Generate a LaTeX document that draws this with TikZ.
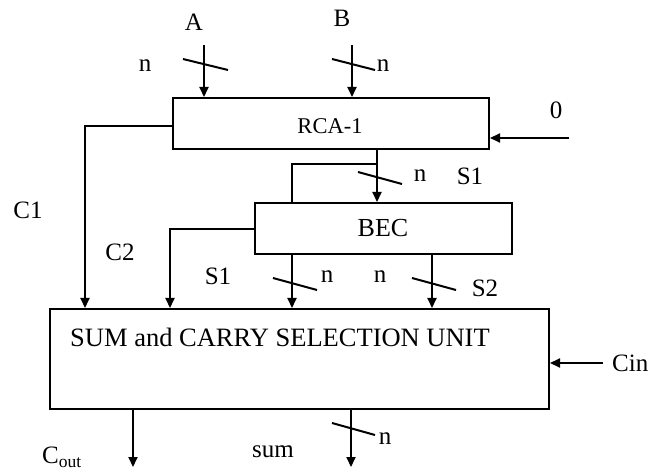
\documentclass[tikz,border=0pt]{standalone}
\usepackage{fontspec}
\setmainfont{Liberation Serif}
\usetikzlibrary{arrows.meta}
\begin{document}
\begin{tikzpicture}[x=1pt,y=-1pt,
  every node/.style={font=\fontsize{25}{29}\selectfont, inner sep=0pt},
  blk/.style={draw, line width=2pt, rectangle, anchor=center},
  wire/.style={line width=2pt},
  arr/.style={line width=2pt, -{Triangle[length=10pt,width=9pt]}},
  slash/.style={line width=2pt}]
\useasboundingbox (0,0) rectangle (651,473);

% blocks
\node[blk, minimum width=316pt, minimum height=51pt] (rca) at (331,123.5) {};
\node (rcat) at (330,126) {\fontsize{22.5}{26}\selectfont RCA-1};
\node[blk, minimum width=257pt, minimum height=51pt] (bec) at (383.5,228.5) {};
\node (bect) at (383,228) {\fontsize{26}{30}\selectfont BEC};
\node[blk, minimum width=499pt, minimum height=100pt] (scu) at (299.5,359) {};
\node[anchor=west] (scut) at (70,337) {\fontsize{26.5}{30}\selectfont SUM and CARRY SELECTION UNIT};

% coordinates
\coordinate (ain) at (204,45);
\coordinate (bin) at (352,45);
\coordinate (zin) at (569,138);
\coordinate (c1x) at (85,0);
\coordinate (c2x) at (170,0);
\coordinate (rox) at (377,0);
\coordinate (brx) at (292,0);
\coordinate (brc) at (377,164);
\coordinate (s2x) at (432,0);
\coordinate (cinin) at (603,363);
\coordinate (coutx) at (133,0);
\coordinate (sumx) at (351,0);
\coordinate (coute) at (133,467);
\coordinate (sume) at (351,467);

% inputs A, B
\draw[arr] (ain) -- (ain |- rca.north);
\draw[arr] (bin) -- (bin |- rca.north);
\draw[slash] (183,59) -- (228,70);
\draw[slash] (332,59) -- (375,70);
\node (la) at (194,22) {A};
\node (lb) at (342,18) {B};
\node (lna) at (145,66) {n};
\node (lnb) at (383,66) {n};

% zero carry in
\draw[arr] (zin) -- (zin -| rca.east);
\node (l0) at (556,110) {0};

% C1
\draw[arr] ([yshift=-2.5pt]rca.west) -| (c1x |- scu.north);
\node (lc1) at (28,210) {C1};

% RCA output to BEC
\draw[arr] (rox |- rca.south) -- (rox |- bec.north);
\draw[wire] (brc) -- (brc -| brx) -- (brx |- bec.north);
\draw[slash] (358,172) -- (402,184);
\node (ln1) at (420,176) {n};
\node (ls1) at (470,176) {S1};

% C2
\draw[arr] ([yshift=-1pt]bec.west) -| (c2x |- scu.north);
\node (lc2) at (120,252) {C2};

% BEC outputs
\draw[arr] (brx |- bec.south) -- (brx |- scu.north);
\draw[arr] (s2x |- bec.south) -- (s2x |- scu.north);
\draw[slash] (273,278) -- (317,290);
\draw[slash] (412,278) -- (456,290);
\node (ls1b) at (218,276) {S1};
\node (ln2) at (327,277) {n};
\node (ln3) at (380,277) {n};
\node (ls2) at (485,288) {S2};

% Cin
\draw[arr] (cinin) -- (cinin -| scu.east);
\node[anchor=west] (lcin) at (612,363) {Cin};

% outputs
\draw[arr] (coutx |- scu.south) -- (coute);
\draw[arr] (sumx |- scu.south) -- (sume);
\draw[slash] (332,423) -- (375,435);
\node[anchor=west] (lcout) at (42,457) {C\textsubscript{out}};
\node (lsum) at (273,452) {sum};
\node (ln4) at (385,439) {n};
\end{tikzpicture}
\end{document}
